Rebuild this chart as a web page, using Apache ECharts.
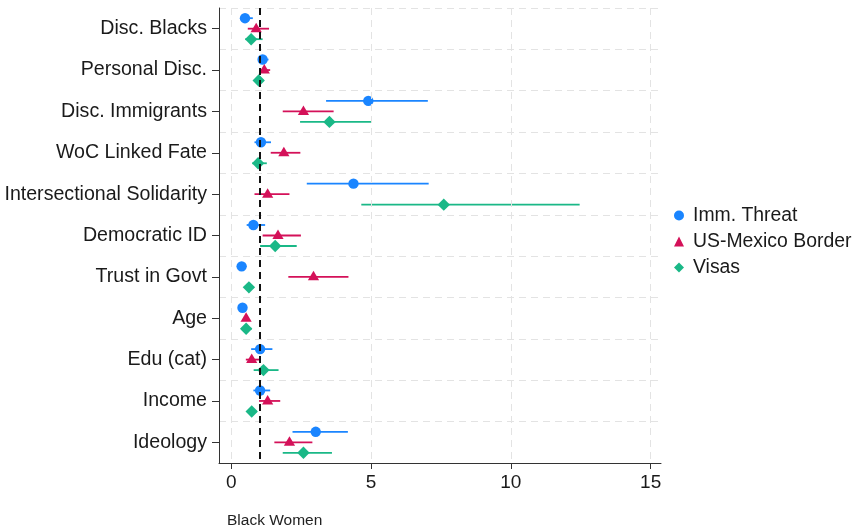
<!DOCTYPE html>
<html>
<head>
<meta charset="utf-8">
<script src="https://cdn.jsdelivr.net/npm/echarts@6/dist/echarts.min.js"></script>
<style>
  html, body { margin: 0; padding: 0; background: #fff; }
  #chart { width: 858px; height: 527px; }
</style>
</head>
<body>
<div id="chart"></div>
<script>
// Predictors (top to bottom)
const categories = ['Disc. Blacks', 'Personal Disc.', 'Disc. Immigrants', 'WoC Linked Fate',
  'Intersectional Solidarity', 'Democratic ID', 'Trust in Govt', 'Age', 'Edu (cat)', 'Income', 'Ideology'];

// Odds-ratio estimates with 95% confidence bounds
const immEst = [0.49, 1.12, 4.90, 1.06, 4.37, 0.79, 0.37, 0.40, 1.03, 1.03, 3.02];
const immLo  = [0.40, 1.03, 3.39, 0.83, 2.70, 0.55, 0.33, 0.37, 0.71, 0.79, 2.19];
const immHi  = [0.77, 1.33, 7.03, 1.42, 7.06, 1.21, 0.42, 0.44, 1.47, 1.39, 4.17];

const borderEst = [0.89, 1.18, 2.58, 1.88, 1.30, 1.67, 2.94, 0.53, 0.73, 1.30, 2.08];
const borderLo  = [0.59, 1.05, 1.84, 1.41, 0.83, 1.12, 2.04, 0.49, 0.52, 0.99, 1.54];
const borderHi  = [1.35, 1.39, 3.66, 2.47, 2.08, 2.49, 4.19, 0.58, 1.03, 1.75, 2.90];

const visasEst = [0.71, 0.98, 3.51, 0.96, 7.60, 1.57, 0.63, 0.53, 1.15, 0.73, 2.58];
const visasLo  = [0.50, 0.85, 2.46, 0.75, 4.65, 1.03, 0.47, 0.37, 0.80, 0.61, 1.84];
const visasHi  = [1.12, 1.15, 5.01, 1.27, 12.46, 2.34, 0.81, 0.73, 1.69, 0.91, 3.60];

const xTicks = [0, 5, 10, 15];
const refValue = 1;

const FONT = '"Liberation Sans", Arial, Helvetica, sans-serif';
const GRID_COLOR = '#e3e3e3';

function rows(est, lo, hi) {
  return categories.map((c, i) => [i, est[i], lo[i], hi[i]]);
}

function markerShape(kind, cx, cy, color) {
  if (kind === 'circle') {
    return { type: 'circle', shape: { cx: cx, cy: cy, r: 5.2 }, style: { fill: color } };
  }
  if (kind === 'triangle') {
    return { type: 'polygon', shape: { points: [[cx, cy - 6], [cx + 5.6, cy + 3.5], [cx - 5.6, cy + 3.5]] },
      style: { fill: color } };
  }
  return { type: 'polygon', shape: { points: [[cx, cy - 6.2], [cx + 6.2, cy], [cx, cy + 6.2], [cx - 6.2, cy]] },
    style: { fill: color } };
}

function ciRenderer(offset, kind, color) {
  return function (params, api) {
    const ci = api.value(0);
    const p = api.coord([api.value(1), ci]);
    const pl = api.coord([api.value(2), ci]);
    const ph = api.coord([api.value(3), ci]);
    const y = p[1] + offset;
    return {
      type: 'group',
      children: [
        { type: 'line', shape: { x1: pl[0], y1: y, x2: ph[0], y2: y },
          style: { stroke: color, lineWidth: 1.8 } },
        markerShape(kind, p[0], y, color)
      ]
    };
  };
}

const colors = { imm: '#1a85ff', border: '#d41159', visas: '#1ab887' };

function ciSeries(name, data, offset, kind, color) {
  return {
    name: name,
    type: 'custom',
    renderItem: ciRenderer(offset, kind, color),
    encode: { x: [1, 2, 3], y: 0 },
    itemStyle: { color: color },
    data: data,
    z: 3
  };
}

const chart = echarts.init(document.getElementById('chart'), null, { renderer: 'canvas' });

chart.setOption({
  animation: false,
  backgroundColor: '#ffffff',
  textStyle: { fontFamily: FONT },
  title: {
    text: 'Black Women',
    left: 222,
    top: 508,
    textStyle: { fontFamily: FONT, fontSize: 15.5, fontWeight: 'normal', color: '#222' }
  },
  legend: {
    orient: 'vertical',
    left: 669,
    top: 201,
    itemWidth: 10,
    itemHeight: 10,
    itemGap: 7,
    textStyle: { fontFamily: FONT, fontSize: 19.4, color: '#1a1a1a', lineHeight: 19, padding: [0, 0, 0, 4] },
    data: [
      { name: 'Imm. Threat', icon: 'circle' },
      { name: 'US-Mexico Border', icon: 'triangle' },
      { name: 'Visas', icon: 'diamond' }
    ]
  },
  grid: { left: 219, right: 197, top: 8, bottom: 64, containLabel: false },
  xAxis: {
    type: 'value',
    min: -0.44,
    max: 15.37,
    axisLine: { show: true, onZero: false, lineStyle: { color: '#333', width: 1 } },
    axisTick: { show: true, length: 6, customValues: xTicks, lineStyle: { color: '#333' } },
    axisLabel: { customValues: xTicks, fontFamily: FONT, fontSize: 19, color: '#1a1a1a', margin: 10 },
    splitLine: { show: false }
  },
  yAxis: {
    type: 'category',
    data: categories,
    inverse: true,
    axisLine: { show: true, onZero: false, lineStyle: { color: '#333', width: 1 } },
    axisTick: { show: true, alignWithLabel: true, length: 7, lineStyle: { color: '#333' } },
    axisLabel: { fontFamily: FONT, fontSize: 19.6, color: '#1a1a1a', margin: 12 },
    splitLine: { show: true, lineStyle: { color: GRID_COLOR, type: [7, 5], width: 1 } }
  },
  series: [
    // vertical grid lines at the labelled x ticks
    {
      type: 'line',
      data: [],
      silent: true,
      z: 1,
      markLine: {
        silent: true,
        symbol: 'none',
        label: { show: false },
        lineStyle: { color: GRID_COLOR, width: 1, type: [7, 5] },
        data: xTicks.map(v => ({ xAxis: v }))
      }
    },
    Object.assign(ciSeries('Imm. Threat', rows(immEst, immLo, immHi), -10.5, 'circle', colors.imm), {
      markLine: {
        silent: true,
        symbol: 'none',
        label: { show: false },
        lineStyle: { color: '#111', width: 2, type: [7, 5] },
        data: [{ xAxis: refValue }]
      }
    }),
    ciSeries('US-Mexico Border', rows(borderEst, borderLo, borderHi), 0, 'triangle', colors.border),
    ciSeries('Visas', rows(visasEst, visasLo, visasHi), 10.5, 'diamond', colors.visas)
  ]
});
</script>
</body>
</html>
